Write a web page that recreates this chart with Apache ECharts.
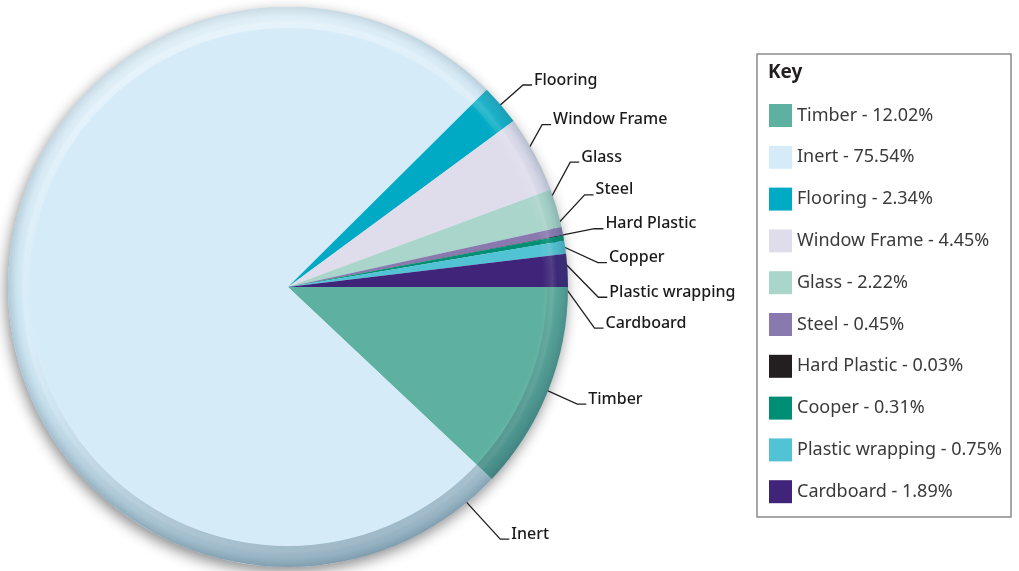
<!DOCTYPE html>
<html>
<head>
<meta charset="utf-8">
<script src="https://cdn.jsdelivr.net/npm/echarts@6/dist/echarts.min.js"></script>
<style>
html,body{margin:0;padding:0;background:#fff;}
#chart{width:1019px;height:571px;}
</style>
</head>
<body>
<div id="chart"></div>
<script>
// ---- data ----
const pieLabels = ['Timber', 'Inert', 'Flooring', 'Window Frame', 'Glass', 'Steel', 'Hard Plastic', 'Copper', 'Plastic wrapping', 'Cardboard'];
const legendLabels = ['Timber', 'Inert', 'Flooring', 'Window Frame', 'Glass', 'Steel', 'Hard Plastic', 'Cooper', 'Plastic wrapping', 'Cardboard'];
const shares = [12.02, 75.54, 2.34, 4.45, 2.22, 0.45, 0.03, 0.31, 0.75, 1.89];
const sliceColors = ['#5eb0a0', '#d5ebf8', '#00aac4', '#dfdcec', '#aad5ca', '#8a79af', '#231f20', '#008f74', '#52c3d5', '#3f2479'];

// ---- layout (styling only) ----
const CX = 288, CY = 287, R = 280;
const ANCHOR_R = 0.95 * R;
const FONT = 'Noto Sans';
// leader: where along the slice the line starts (edgeDeg = degrees from slice start, else middle)
// and text offset from that start point
const leaders = [
  { tx: 53, ty: 14 },              // Timber
  { edgeDeg: 7.2, tx: 54, ty: 42 },// Inert
  { tx: 44, ty: -34 },             // Flooring
  { tx: 31, ty: -41 },             // Window Frame
  { tx: 38, ty: -55 },             // Glass
  { tx: 47, ty: -44 },             // Steel
  { tx: 56, ty: -14 },             // Hard Plastic
  { tx: 59, ty: 17 },              // Copper
  { tx: 58, ty: 43 },              // Plastic wrapping
  { tx: 52, ty: 52 }               // Cardboard
];

const total = shares.reduce((a, b) => a + b, 0);
const startDeg = [];
let acc = 0;
shares.forEach(v => { startDeg.push(acc); acc += v / total * 360; });

function anchorPoint(i) {
  const span = shares[i] / total * 360;
  const lead = leaders[i];
  const deg = lead.edgeDeg != null ? startDeg[i] + lead.edgeDeg : startDeg[i] + span / 2;
  const a = deg * Math.PI / 180;
  return [CX + ANCHOR_R * Math.cos(a), CY + ANCHOR_R * Math.sin(a)];
}

const chart = echarts.init(document.getElementById('chart'), null, { renderer: 'canvas' });

const option = {
  animation: false,
  backgroundColor: '#ffffff',
  title: {
    text: 'Key',
    left: 768,
    top: 63,
    padding: 0,
    textStyle: { fontFamily: FONT, fontSize: 19, fontWeight: 'bold', color: '#231f20' }
  },
  legend: {
    data: pieLabels,
    orient: 'vertical',
    left: 769,
    top: 104,
    padding: 0,
    itemWidth: 23,
    itemHeight: 23,
    itemGap: 18.8,
    icon: 'rect',
    selectedMode: false,
    textStyle: { fontFamily: FONT, fontSize: 18, color: '#3a3a3a' },
    formatter: function (name) {
      const i = pieLabels.indexOf(name);
      return legendLabels[i] + ' - ' + shares[i].toFixed(2) + '%';
    }
  },
  graphic: [{
    type: 'rect',
    shape: { x: 757, y: 54, width: 254, height: 463 },
    style: { fill: 'none', stroke: '#8c8c8c', lineWidth: 1.5 },
    silent: true
  }],
  series: [
    {
      // drop shadow base
      type: 'pie', center: [CX, CY], radius: [0, R], silent: true,
      startAngle: 0, label: { show: false }, labelLine: { show: false },
      itemStyle: { color: '#d5ebf8', borderWidth: 0, shadowBlur: 14, shadowColor: 'rgba(0,0,0,0.45)', shadowOffsetX: -2, shadowOffsetY: 5 },
      data: [{ value: 1, name: '__base' }], z: 1
    },
    {
      type: 'pie',
      center: [CX, CY],
      radius: [0, R],
      startAngle: 0,
      clockwise: true,
      avoidLabelOverlap: false,
      emphasis: { disabled: true },
      itemStyle: { borderWidth: 0 },
      label: {
        show: true,
        position: 'outside',
        fontFamily: FONT,
        fontSize: 16,
        fontWeight: 500,
        color: '#1b1b1b',
        formatter: '{b}'
      },
      labelLine: { show: true, lineStyle: { color: '#231f20', width: 1.3 } },
      labelLayout: function (params) {
        const i = params.dataIndex;
        const p0 = anchorPoint(i);
        const lead = leaders[i];
        const tx = p0[0] + lead.tx, ty = p0[1] + lead.ty;
        return {
          x: tx, y: ty, align: 'left', verticalAlign: 'middle',
          labelLinePoints: [p0, [tx - 11, ty + 5], [tx - 2, ty + 5]]
        };
      },
      data: shares.map((v, i) => ({ value: v, name: pieLabels[i], itemStyle: { color: sliceColors[i] } })),
      z: 2
    },
    {
      // rim bevel (radial darkening toward the edge)
      type: 'pie', center: [CX, CY], radius: [0, R], silent: true,
      startAngle: 0, label: { show: false }, labelLine: { show: false },
      itemStyle: {
        borderWidth: 0,
        color: {
          type: 'radial', x: 0.5, y: 0.5, r: 0.5,
          colorStops: [
            { offset: 0, color: 'rgba(255,255,255,0)' },
            { offset: 0.91, color: 'rgba(255,255,255,0)' },
            { offset: 0.945, color: 'rgba(255,255,255,0.12)' },
            { offset: 0.965, color: 'rgba(60,110,130,0.05)' },
            { offset: 1, color: 'rgba(30,70,90,0.22)' }
          ]
        }
      },
      data: [{ value: 1, name: '__rim' }], z: 3
    },
    {
      // rim lighting (top light, bottom dark)
      type: 'pie', center: [CX, CY], radius: [0.925 * R, R], silent: true,
      startAngle: 0, label: { show: false }, labelLine: { show: false },
      itemStyle: {
        borderWidth: 0,
        color: {
          type: 'linear', x: 0.35, y: 0, x2: 0.65, y2: 1,
          colorStops: [
            { offset: 0, color: 'rgba(255,255,255,0.4)' },
            { offset: 0.4, color: 'rgba(255,255,255,0)' },
            { offset: 0.6, color: 'rgba(20,60,80,0.06)' },
            { offset: 1, color: 'rgba(20,60,80,0.32)' }
          ]
        }
      },
      data: [{ value: 1, name: '__light' }], z: 4
    }
  ]
};
chart.setOption(option);
</script>
</body>
</html>
